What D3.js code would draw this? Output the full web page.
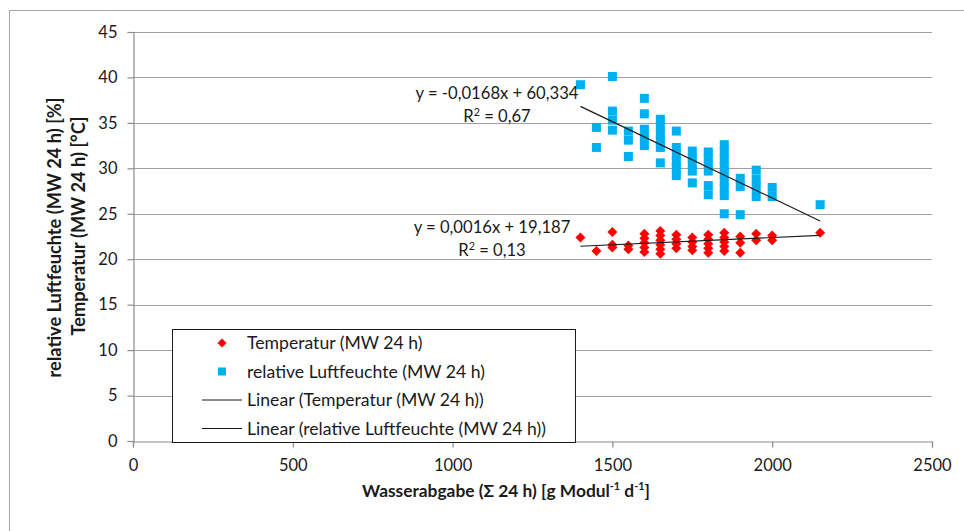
<!DOCTYPE html>
<html>
<head>
<meta charset="utf-8">
<script src="https://cdn.jsdelivr.net/npm/d3@7"></script>
<style>
  body { margin: 0; background: #fff; }
  text { font-family: Lato, "Open Sans", sans-serif; fill: #1a1a1a; }
</style>
</head>
<body>
<div id="chart"></div>
<script>
// relative Luftfeuchte (MW 24 h) vs Wasserabgabe
const rhWater = [1400,
  1450, 1450,
  1500, 1500, 1500, 1500,
  1550, 1550, 1550,
  1600, 1600, 1600, 1600, 1600,
  1650, 1650, 1650, 1650, 1650, 1650,
  1700, 1700, 1700, 1700, 1700, 1700,
  1750, 1750, 1750, 1750, 1750,
  1800, 1800, 1800, 1800, 1800, 1800,
  1850, 1850, 1850, 1850, 1850, 1850, 1850, 1850, 1850,
  1900, 1900, 1900,
  1950, 1950, 1950, 1950,
  2000, 2000,
  2150];
const rhValues = [39.2,
  34.5, 32.3,
  40.1, 36.3, 35.3, 34.2,
  34.1, 33.1, 31.3,
  37.7, 36.0, 34.3, 33.4, 32.5,
  35.4, 34.6, 33.8, 33.0, 32.3, 30.6,
  34.1, 32.3, 31.5, 30.7, 30.0, 29.2,
  31.9, 31.1, 30.4, 29.7, 28.4,
  31.8, 31.1, 30.4, 29.7, 28.1, 27.1,
  32.6, 31.8, 31.0, 30.2, 29.4, 28.6, 27.8, 27.0, 25.0,
  28.9, 28.0, 24.9,
  29.8, 28.8, 27.9, 26.9,
  27.9, 26.9,
  26.0];

// Temperatur (MW 24 h) vs Wasserabgabe
const tWater = [1400,
  1450,
  1500, 1500, 1500,
  1550, 1550,
  1600, 1600, 1600, 1600, 1600,
  1650, 1650, 1650, 1650, 1650, 1650,
  1700, 1700, 1700, 1700,
  1750, 1750, 1750, 1750,
  1800, 1800, 1800, 1800, 1800,
  1850, 1850, 1850, 1850, 1850,
  1900, 1900, 1900,
  1950, 1950,
  2000, 2000,
  2150];
const tValues = [22.4,
  20.9,
  23.0, 21.6, 21.3,
  21.5, 21.1,
  22.8, 22.3, 21.8, 21.3, 20.8,
  23.1, 22.6, 22.1, 21.6, 21.1, 20.6,
  22.7, 22.2, 21.7, 21.2,
  22.4, 21.9, 21.4, 21.0,
  22.7, 22.2, 21.7, 21.2, 20.7,
  22.9, 22.4, 21.9, 21.4, 20.9,
  22.5, 21.8, 20.7,
  22.8, 22.1,
  22.6, 22.1,
  22.9];

// trend lines as given on the chart: [slope, intercept]
const rhTrend = [-0.0168, 60.334];
const tTrend = [0.0016, 19.187];

const xTicks = [0, 500, 1000, 1500, 2000, 2500];
const yTicks = [0, 5, 10, 15, 20, 25, 30, 35, 40, 45];

const legendLabels = ['Temperatur (MW 24 h)', 'relative Luftfeuchte (MW 24 h)',
  'Linear (Temperatur (MW 24 h))', 'Linear (relative Luftfeuchte (MW 24 h))'];

const W = 964, H = 531;
const margin = {top: 32, right: 32, bottom: 90, left: 133};
const width = W - margin.left - margin.right;
const height = H - margin.top - margin.bottom;

// scale a text (and its tspans) so it spans the given width, like the Calibri original
function fitWidth(sel, target) {
  const k = target / sel.node().getComputedTextLength();
  sel.attr('font-size', +sel.attr('font-size') * k);
  sel.selectAll('tspan').each(function () {
    const t = d3.select(this);
    if (t.attr('font-size')) t.attr('font-size', +t.attr('font-size') * k);
    if (t.attr('dy')) t.attr('dy', +t.attr('dy') * k);
  });
  return k;
}

const root = d3.select('#chart').append('svg')
  .attr('width', W)
  .attr('height', H);

// outer frame
root.append('rect')
  .attr('x', 9.5).attr('y', 10.5)
  .attr('width', 980).attr('height', 560)
  .attr('fill', 'none')
  .attr('stroke', '#a6a6a6');

const svg = root.append('g')
  .attr('transform', `translate(${margin.left},${margin.top})`);

const x = d3.scaleLinear().domain([0, 2500]).range([0, width]);
const y = d3.scaleLinear().domain([0, 45]).range([height, 0]);

// gridlines
svg.append('g')
  .selectAll('line')
  .data(yTicks.filter(d => d > 0))
  .enter().append('line')
  .attr('x1', 0).attr('x2', width)
  .attr('y1', d => Math.round(y(d)) + 0.5).attr('y2', d => Math.round(y(d)) + 0.5)
  .attr('stroke', '#a0a0a0')
  .attr('stroke-width', 1.2);

const xAxis = svg.append('g')
  .attr('transform', `translate(0,${Math.round(height) + 0.5})`)
  .call(d3.axisBottom(x).tickValues(xTicks).tickSize(6).tickPadding(12).tickFormat(d3.format('d')));

const yAxis = svg.append('g')
  .attr('transform', 'translate(0.5,0)')
  .call(d3.axisLeft(y).tickValues(yTicks).tickSize(6).tickPadding(10));

[xAxis, yAxis].forEach(a => {
  a.select('.domain').attr('stroke', '#8c8c8c').attr('stroke-width', 1.2);
  a.selectAll('.tick line').attr('stroke', '#8c8c8c').attr('stroke-width', 1.2);
  a.selectAll('.tick text')
    .attr('font-size', 16.5)
    .attr('font-family', 'Lato, sans-serif')
    .attr('fill', '#1a1a1a');
});

// humidity squares
svg.append('g')
  .selectAll('rect')
  .data(rhWater)
  .enter().append('rect')
  .attr('x', (d, i) => x(d) - 4.5)
  .attr('y', (d, i) => y(rhValues[i]) - 4.5)
  .attr('width', 9).attr('height', 9)
  .attr('fill', '#00b0f0');

// temperature diamonds
svg.append('g')
  .selectAll('path')
  .data(tWater)
  .enter().append('path')
  .attr('transform', (d, i) => `translate(${x(d)},${y(tValues[i])})`)
  .attr('d', 'M0,-5L5,0L0,5L-5,0Z')
  .attr('fill', '#ff0000');

// trend lines
const trendRange = [d3.min(rhWater), d3.max(rhWater)];
[rhTrend, tTrend].forEach(t => {
  svg.append('line')
    .attr('x1', x(trendRange[0])).attr('y1', y(t[0] * trendRange[0] + t[1]))
    .attr('x2', x(trendRange[1])).attr('y2', y(t[0] * trendRange[1] + t[1]))
    .attr('stroke', '#1a1a1a')
    .attr('stroke-width', 1.2);
});

// equation labels
const eqs = [
  {text: 'y = -0,0168x + 60,334', r2: '0,67', cx: 497, cy: 93},
  {text: 'y = 0,0016x + 19,187', r2: '0,13', cx: 492, cy: 227}
];
let eqSize = 16;
eqs.forEach((e, j) => {
  const t = root.append('text')
    .attr('x', e.cx).attr('y', e.cy + 6)
    .attr('text-anchor', 'middle')
    .attr('font-size', eqSize)
    .text(e.text);
  if (j === 0) eqSize = eqSize * fitWidth(t, 163);
  t.attr('font-size', eqSize);
  const r = root.append('text')
    .attr('x', e.cx).attr('y', e.cy + 29)
    .attr('text-anchor', 'middle')
    .attr('font-size', eqSize);
  r.append('tspan').text('R');
  r.append('tspan').attr('dy', -6).attr('font-size', eqSize * 0.65).text('2');
  r.append('tspan').attr('dy', 6).text(' = ' + e.r2);
});

// legend
const legend = root.append('g');
legend.append('rect')
  .attr('x', 172.5).attr('y', 329.5)
  .attr('width', 403).attr('height', 113)
  .attr('fill', '#fff')
  .attr('stroke', '#1a1a1a');

const rowY = [343, 371.5, 400, 428.5];
legend.append('path')
  .attr('transform', `translate(222,${rowY[0]})`)
  .attr('d', 'M0,-4.5L4.5,0L0,4.5L-4.5,0Z')
  .attr('fill', '#ff0000');
legend.append('rect')
  .attr('x', 218).attr('y', rowY[1] - 4)
  .attr('width', 8).attr('height', 8)
  .attr('fill', '#00b0f0');
[2, 3].forEach(i => {
  legend.append('line')
    .attr('x1', 202).attr('x2', 242)
    .attr('y1', rowY[i]).attr('y2', rowY[i])
    .attr('stroke', '#1a1a1a');
});
const legendText = legend.selectAll('text.lbl')
  .data(legendLabels)
  .enter().append('text')
  .attr('class', 'lbl')
  .attr('x', 247)
  .attr('y', (d, i) => rowY[i] + 6)
  .attr('font-size', 16)
  .text(d => d);
const legSize = 16 * fitWidth(d3.select(legendText.nodes()[3]), 299);
legendText.attr('font-size', legSize);

// axis titles
const xt = root.append('text')
  .attr('x', 506).attr('y', 497)
  .attr('text-anchor', 'middle')
  .attr('font-size', 16)
  .attr('font-weight', 'bold');
xt.append('tspan').text('Wasserabgabe (Σ 24 h) [g Modul');
xt.append('tspan').attr('dy', -6).attr('font-size', 10).text('-1');
xt.append('tspan').attr('dy', 6).text(' d');
xt.append('tspan').attr('dy', -6).attr('font-size', 10).text('-1');
xt.append('tspan').attr('dy', 6).text(']');
fitWidth(xt, 288);

// two-line y title, both lines in one size
const yt1 = root.append('text')
  .attr('transform', 'translate(61,237.5) rotate(-90)')
  .attr('text-anchor', 'middle')
  .attr('font-size', 16)
  .attr('font-weight', 'bold')
  .text('relative Luftfeuchte (MW 24 h) [%]');
const yt2 = root.append('text')
  .attr('transform', 'translate(85,226) rotate(-90)')
  .attr('text-anchor', 'middle')
  .attr('font-size', 16)
  .attr('font-weight', 'bold')
  .text('Temperatur (MW 24 h) [°C]');
const ytLen = yt1.node().getComputedTextLength() + yt2.node().getComputedTextLength();
const ytSize = 16 * (289 + 210) / ytLen;
yt1.attr('font-size', ytSize);
yt2.attr('font-size', ytSize);
</script>
</body>
</html>
